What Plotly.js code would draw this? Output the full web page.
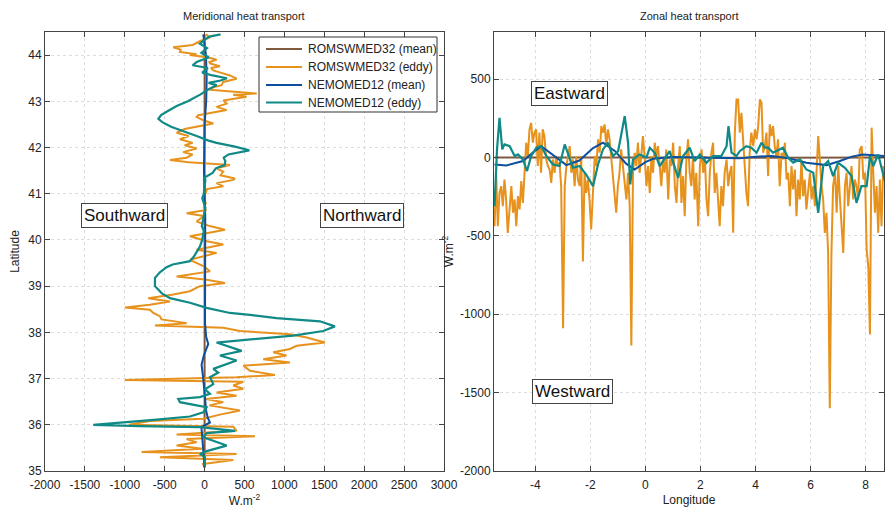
<!DOCTYPE html>
<html><head><meta charset="utf-8">
<script src="https://cdn.plot.ly/plotly-3.0.1.min.js"></script>
<style>html,body{margin:0;padding:0;background:#fff}#chart{width:885px;height:515px}</style>
</head><body><div id="chart"></div>
<script>
// ---------- Meridional (left) ----------
const merRomsMeanLat = [44.45, 44.0, 43.5, 43.0, 42.0, 41.0, 40.0, 39.0, 38.0, 37.0, 36.0, 35.08];
const merRomsMeanVal = [0, 0, -8, -5, 0, 0, 0, 0, 0, 0, 0, 0];

const merRomsEddyLat = [44.45,44.38,44.30,44.22,44.17,44.12,44.07,44.02,44.00,43.95,43.90,43.85,43.82,43.76,43.72,43.67,43.62,43.56,43.49,43.45,43.42,43.35,43.30,43.25,43.20,43.17,43.14,43.10,43.05,43.02,42.95,42.88,42.81,42.74,42.70,42.66,42.59,42.52,42.45,42.40,42.32,42.25,42.18,42.10,42.05,41.98,41.90,41.85,41.78,41.73,41.68,41.62,41.55,41.48,41.40,41.33,41.30,41.23,41.16,41.10,41.00,40.90,40.80,40.70,40.65,40.58,40.52,40.40,40.30,40.22,40.15,40.08,39.97,39.90,39.79,39.72,39.57,39.43,39.32,39.21,39.14,39.07,39.00,38.89,38.82,38.74,38.67,38.60,38.54,38.49,38.42,38.35,38.28,38.20,38.15,38.10,38.03,37.96,37.89,37.78,37.71,37.64,37.57,37.50,37.42,37.35,37.28,37.17,37.08,37.03,36.97,36.93,36.85,36.78,36.70,36.63,36.56,36.49,36.42,36.31,36.22,36.13,36.08,36.00,35.96,35.87,35.79,35.75,35.69,35.62,35.55,35.48,35.41,35.37,35.30,35.24,35.15,35.08];
const merRomsEddyVal = [20,60,-60,-150,-393,-300,-309,-100,-184,50,150,60,67,192,80,109,200,317,401,300,234,213,100,67,400,653,359,526,350,234,276,150,276,25,-80,-100,-17,109,-100,-250,-350,-200,-308,-150,-250,-100,-270,-150,-225,-434,-200,317,150,234,200,380,359,150,234,30,10,-20,15,-10,20,-225,-10,-100,67,255,40,-184,30,234,-100,150,-184,-10,67,-351,25,255,-60,-184,-393,-706,-434,-685,-998,-685,-643,-560,-540,-225,-622,234,443,1069,1278,1508,1153,1069,860,1027,735,1069,485,568,881,400,-998,485,359,485,150,401,20,234,60,443,192,-17,-685,-950,359,401,-351,631,-225,-100,-351,-30,-789,401,-560,359,-20,0];

const merNemoMeanLat = [44.45,44.0,43.5,43.0,42.5,41.5,40.5,39.5,38.6,38.2,37.9,37.75,37.5,37.3,37.0,36.6,36.3,36.15,36.05,35.95,35.7,35.4,35.08];
const merNemoMeanVal = [-16,17,26,20,0,-8,8,5,4,5,20,46,-10,-38,-17,4,20,40,67,-40,-30,-17,0];

const merNemoEddyLat = [44.45,44.40,44.33,44.25,44.15,44.05,43.95,43.85,43.78,43.72,43.62,43.56,43.50,43.45,43.40,43.35,43.25,43.15,43.00,42.90,42.80,42.70,42.62,42.55,42.45,42.35,42.25,42.15,42.10,42.02,41.94,41.85,41.78,41.70,41.62,41.55,41.45,41.35,41.30,41.00,40.90,40.70,40.50,40.30,40.20,40.00,39.86,39.64,39.54,39.47,39.41,39.30,39.18,39.00,38.85,38.74,38.64,38.53,38.42,38.38,38.31,38.24,38.13,38.03,37.93,37.78,37.60,37.50,37.39,37.21,37.13,37.03,36.88,36.77,36.67,36.60,36.56,36.49,36.42,36.38,36.27,36.18,36.11,36.00,35.97,35.95,35.87,35.82,35.73,35.55,35.43,35.37,35.30,35.08];
const merNemoEddyVal = [200,60,0,-60,30,-40,50,-100,-150,40,-30,100,280,200,50,150,40,-50,-210,-350,-450,-545,-580,-530,-420,-250,-100,50,150,380,560,300,240,260,250,140,100,0,10,-10,-30,10,-10,-35,-10,-30,-58,-134,-184,-400,-476,-560,-622,-622,-539,-434,-184,25,317,568,902,1445,1633,1487,1111,150,464,192,401,109,171,67,109,4,67,-58,-330,-309,-100,25,-17,-184,-601,-1395,-810,-58,380,25,-17,276,25,-58,4,0];

// ---------- Zonal (right) ----------
const zonRomsMeanLon = [-5.48,-3,0,3,6,8.7];
const zonRomsMeanVal = [0,2,0,-2,0,0];

const zonRomsEddyLon = [-5.48,-5.42,-5.36,-5.30,-5.24,-5.18,-5.12,-5.06,-5.00,-4.93,-4.87,-4.81,-4.75,-4.69,-4.63,-4.57,-4.51,-4.45,-4.39,-4.33,-4.27,-4.21,-4.15,-4.09,-4.03,-3.97,-3.91,-3.85,-3.79,-3.73,-3.67,-3.60,-3.54,-3.48,-3.42,-3.36,-3.30,-3.24,-3.18,-3.12,-3.06,-2.99,-2.93,-2.87,-2.81,-2.75,-2.69,-2.63,-2.57,-2.51,-2.45,-2.39,-2.33,-2.27,-2.21,-2.15,-2.09,-2.03,-1.97,-1.90,-1.84,-1.78,-1.72,-1.66,-1.60,-1.54,-1.48,-1.42,-1.36,-1.30,-1.24,-1.18,-1.12,-1.06,-1.00,-0.94,-0.88,-0.82,-0.75,-0.69,-0.63,-0.57,-0.51,-0.45,-0.39,-0.33,-0.27,-0.21,-0.15,-0.09,-0.02,0.04,0.10,0.16,0.22,0.28,0.34,0.40,0.46,0.52,0.58,0.64,0.70,0.76,0.83,0.89,0.95,1.01,1.07,1.13,1.19,1.25,1.31,1.37,1.43,1.49,1.55,1.61,1.67,1.73,1.79,1.85,1.92,1.98,2.04,2.10,2.16,2.22,2.28,2.34,2.40,2.46,2.52,2.58,2.64,2.70,2.76,2.82,2.88,2.95,3.01,3.07,3.13,3.19,3.25,3.31,3.37,3.43,3.49,3.55,3.61,3.67,3.73,3.79,3.85,3.92,3.98,4.04,4.10,4.16,4.22,4.28,4.34,4.40,4.46,4.52,4.58,4.64,4.70,4.76,4.82,4.88,4.95,5.01,5.07,5.13,5.19,5.25,5.31,5.37,5.43,5.49,5.55,5.61,5.67,5.73,5.79,5.85,5.92,5.98,6.04,6.10,6.16,6.22,6.28,6.34,6.40,6.46,6.52,6.58,6.64,6.70,6.76,6.82,6.89,6.95,7.01,7.07,7.13,7.19,7.25,7.31,7.37,7.43,7.49,7.55,7.61,7.67,7.73,7.79,7.86,7.92,7.98,8.04,8.10,8.16,8.22,8.28,8.34,8.40,8.46,8.52,8.58,8.64];
const zonRomsEddyVal = [-439,-119,-439,-226,-183,-311,-141,-268,-481,-311,-183,-353,-268,-439,-247,-332,-151,-290,-55,94,9,179,221,94,158,179,-55,158,-98,179,136,-13,-55,-77,-162,-13,-98,9,-55,-34,-183,-1090,-183,-55,9,72,-98,-13,-183,9,-141,-183,9,-664,-98,-226,-141,-268,-460,-183,9,-55,115,30,200,158,211,72,179,115,9,-119,-226,-353,-183,-98,51,-55,-141,-268,-98,-311,-1200,-98,30,-55,94,-98,9,136,-13,-183,-55,-226,9,-98,94,9,72,-55,-183,-13,-98,51,-268,-13,-55,94,-183,-290,-55,72,-290,-119,-375,-13,115,-98,-183,9,-268,-98,-439,-55,51,-98,9,-268,-375,-98,30,94,-226,-98,-290,-439,-183,-311,-98,-13,-183,-98,-55,-481,158,370,370,158,285,72,-55,-226,-311,30,158,72,179,115,200,370,349,30,72,158,-119,211,136,200,72,9,115,-183,30,-13,94,-141,-98,-311,-55,-204,-77,-375,-141,-268,-13,-247,-141,-332,-226,-98,-268,-183,-311,-55,136,-13,-183,-268,-481,-353,-609,-1600,-609,-183,-98,-353,-55,-268,-481,-609,-183,-98,-311,-183,-55,-268,-141,-183,-268,51,72,-141,-98,-588,-700,-1130,190,-98,-353,-183,-481,-141,-439,-55];

const zonNemoMeanLon = [-5.48,-5.05,-4.45,-4.1,-3.78,-3.4,-2.87,-2.4,-1.9,-1.54,-1.1,-0.7,-0.39,0.0,0.28,1.0,2.2,3.4,4.0,4.6,5.2,5.85,6.58,7.07,7.5,7.9,8.7];
const zonNemoMeanVal = [-45,-51,-23,30,72,20,-49,-20,60,94,40,-40,-77,-30,-9,2,0,-6,5,9,-5,-34,-49,-23,5,19,9];

const zonNemoEddyLon = [-5.48,-5.39,-5.30,-5.20,-5.12,-4.93,-4.75,-4.63,-4.45,-4.30,-4.15,-3.96,-3.78,-3.60,-3.36,-3.12,-2.93,-2.81,-2.63,-2.39,-2.15,-1.90,-1.72,-1.54,-1.36,-1.18,-0.99,-0.75,-0.63,-0.55,-0.45,-0.21,0.04,0.16,0.34,0.52,0.88,1.19,1.37,1.61,1.79,1.98,2.22,2.46,2.76,2.95,3.02,3.13,3.31,3.43,3.67,3.85,4.04,4.22,4.34,4.46,4.64,5.00,5.19,5.37,5.61,5.85,6.10,6.28,6.46,6.64,6.82,7.00,7.25,7.49,7.67,7.85,8.04,8.16,8.28,8.46,8.58,8.70];
const zonNemoEddyVal = [-311,51,253,51,83,72,9,19,-13,-87,9,62,72,9,-45,-55,83,19,-66,-55,-109,-183,-45,51,94,9,40,264,94,-172,-13,19,0,62,30,-55,40,-130,9,62,-23,19,-34,9,9,72,200,30,9,40,72,62,30,94,62,62,30,62,-2,-34,-13,-77,-98,-353,-55,-23,-119,-34,-66,-119,-290,-183,-183,9,-55,19,-77,-151];

// ---------- Tick labels ----------
const merXTicks = [-2000,-1500,-1000,-500,0,500,1000,1500,2000,2500,3000];
const merXTickText = ['-2000','-1500','-1000','-500','0','500','1000','1500','2000','2500','3000'];
const merYTicks = [35,36,37,38,39,40,41,42,43,44];
const merYTickText = ['35','36','37','38','39','40','41','42','43','44'];
const zonXTicks = [-4,-2,0,2,4,6,8];
const zonXTickText = ['-4','-2','0','2','4','6','8'];
const zonYTicks = [-2000,-1500,-1000,-500,0,500];
const zonYTickText = ['-2000','-1500','-1000','-500','0','500'];

const legendNames = ['ROMSWMED32 (mean)','ROMSWMED32 (eddy)','NEMOMED12 (mean)','NEMOMED12 (eddy)'];
const colors = ['#7f5a3e','#e6921c','#0d4f9f','#0f8a86'];
const widths = [2,2,2,2.2];

const FONT = '"Liberation Sans", Arial, Helvetica, sans-serif';

const merData = [[merRomsMeanLat,merRomsMeanVal],[merRomsEddyLat,merRomsEddyVal],[merNemoMeanLat,merNemoMeanVal],[merNemoEddyLat,merNemoEddyVal]];
const zonData = [[zonRomsMeanLon,zonRomsMeanVal],[zonRomsEddyLon,zonRomsEddyVal],[zonNemoMeanLon,zonNemoMeanVal],[zonNemoEddyLon,zonNemoEddyVal]];

const traces = [];
merData.forEach((d,i)=>{
  traces.push({type:'scatter',mode:'lines',x:d[1],y:d[0],name:legendNames[i],xaxis:'x',yaxis:'y',
    line:{color:colors[i],width:widths[i]},showlegend:false});
});
zonData.forEach((d,i)=>{
  traces.push({type:'scatter',mode:'lines',x:d[0],y:d[1],name:legendNames[i],xaxis:'x2',yaxis:'y2',
    line:{color:colors[i],width:widths[i]},showlegend:false});
});

const axisCommon = {showline:true,linecolor:'#444',linewidth:1,mirror:'ticks',ticks:'inside',ticklen:5,tickcolor:'#444',
  showgrid:true,gridcolor:'#dcdcdc',griddash:'dot',gridwidth:1,zeroline:false,tickmode:'array',
  tickfont:{size:12,color:'#222',family:FONT}};

// custom legend box (pixel layout converted to paper fractions)
const W = 885, H = 515;
const px = v => v / W, py = v => 1 - v / H;
const shapes = [{type:'rect',xref:'paper',yref:'paper',x0:px(259),x1:px(437),y0:py(37),y1:py(112),
  line:{color:'#333',width:1},fillcolor:'#fff',layer:'above'}];
const annotations = [
  {text:'Meridional heat transport',xref:'paper',yref:'paper',x:px(244.5),y:py(16),showarrow:false,font:{size:11,color:'#222'},xanchor:'center',yanchor:'middle'},
  {text:'Zonal heat transport',xref:'paper',yref:'paper',x:px(689),y:py(16),showarrow:false,font:{size:11,color:'#222'},xanchor:'center',yanchor:'middle'},
  {text:'Southward',xref:'x',yref:'y',x:-1000,y:40.52,showarrow:false,font:{size:17,color:'#111'},bgcolor:'#fff',bordercolor:'#444',borderwidth:1,borderpad:2},
  {text:'Northward',xref:'x',yref:'y',x:1970,y:40.52,showarrow:false,font:{size:17,color:'#111'},bgcolor:'#fff',bordercolor:'#444',borderwidth:1,borderpad:2},
  {text:'Eastward',xref:'x2',yref:'y2',x:-2.75,y:405,showarrow:false,font:{size:17,color:'#111'},bgcolor:'#fff',bordercolor:'#444',borderwidth:1,borderpad:2},
  {text:'Westward',xref:'x2',yref:'y2',x:-2.65,y:-1494,showarrow:false,font:{size:17,color:'#111'},bgcolor:'#fff',bordercolor:'#444',borderwidth:1,borderpad:2}
];
const legendRows = [49, 67, 85, 102.5];
legendNames.forEach((n,i)=>{
  shapes.push({type:'line',xref:'paper',yref:'paper',x0:px(266),x1:px(302),y0:py(legendRows[i]),y1:py(legendRows[i]),
    line:{color:colors[i],width:2},layer:'above'});
  annotations.push({text:n,xref:'paper',yref:'paper',x:px(306),y:py(legendRows[i]),xanchor:'left',yanchor:'middle',
    showarrow:false,font:{size:12,color:'#222'}});
});

const ydom = [1-471/515, 1-32/515];
const layout = {
  width:W,height:H,margin:{l:0,r:0,t:0,b:0},paper_bgcolor:'#fff',plot_bgcolor:'#fff',
  font:{family:FONT,color:'#222'},showlegend:false,
  xaxis:Object.assign({},axisCommon,{domain:[45/885,444/885],range:[-2000,3000],tickvals:merXTicks,ticktext:merXTickText,anchor:'y',
    ticklabelstandoff:3,title:{text:'W.m<sup>-2</sup>',font:{size:12},standoff:2}}),
  yaxis:Object.assign({},axisCommon,{domain:ydom,range:[35,44.5],tickvals:merYTicks,ticktext:merYTickText,anchor:'x',
    title:{text:'Latitude',font:{size:12},standoff:6}}),
  xaxis2:Object.assign({},axisCommon,{domain:[494/885,884/885],range:[-5.5,8.67],tickvals:zonXTicks,ticktext:zonXTickText,anchor:'y2',
    ticklabelstandoff:3,title:{text:'Longitude',font:{size:12},standoff:4}}),
  yaxis2:Object.assign({},axisCommon,{domain:ydom,range:[-2000,800],tickvals:zonYTicks,ticktext:zonYTickText,anchor:'x2',
    title:{text:'W.m<sup>-2</sup>',font:{size:12},standoff:3}}),
  shapes:shapes,
  annotations:annotations
};
Plotly.newPlot('chart',traces,layout,{displayModeBar:false,staticPlot:true});
</script></body></html>
